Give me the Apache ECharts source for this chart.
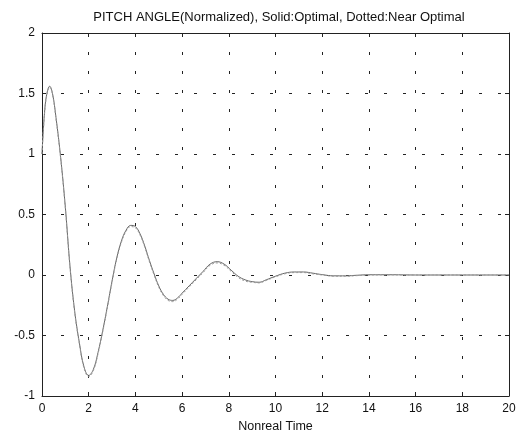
<!DOCTYPE html>
<html>
<head>
<meta charset="utf-8">
<script src="https://cdn.jsdelivr.net/npm/echarts@6/dist/echarts.min.js"></script>
<style>
html,body{margin:0;padding:0;background:#fff;}
#c{width:522px;height:439px;}
</style>
</head>
<body>
<div id="c"></div>
<script>
const titleText = 'PITCH ANGLE(Normalized), Solid:Optimal, Dotted:Near Optimal';
const xName = 'Nonreal Time';
const xTicks = [0, 2, 4, 6, 8, 10, 12, 14, 16, 18, 20];
const yTicks = [-1, -0.5, 0, 0.5, 1, 1.5, 2];

const timeOptimal = [0, 0.1, 0.2, 0.33, 0.45, 0.6, 0.8, 1.0, 1.2, 1.4, 1.6, 1.8, 2.0, 2.2, 2.4, 2.6, 2.8, 3.0, 3.2, 3.4, 3.6, 3.8, 4.0, 4.2, 4.4, 4.6, 4.8, 5.0, 5.2, 5.4, 5.6, 5.8, 6.0, 6.3, 6.6, 6.9, 7.2, 7.5, 7.8, 8.1, 8.4, 8.7, 9.0, 9.3, 9.6, 10.0, 10.4, 10.8, 11.2, 11.6, 12.0, 12.5, 13, 13.5, 14, 15, 16, 17, 18, 19, 20];
const pitchOptimal = [1.0, 1.32, 1.49, 1.56, 1.50, 1.30, 0.97, 0.56, 0.07, -0.30, -0.56, -0.76, -0.83, -0.78, -0.64, -0.46, -0.26, -0.05, 0.14, 0.28, 0.37, 0.41, 0.40, 0.34, 0.24, 0.12, 0.01, -0.09, -0.16, -0.20, -0.21, -0.19, -0.15, -0.09, -0.03, 0.03, 0.09, 0.11, 0.09, 0.04, -0.01, -0.04, -0.055, -0.06, -0.04, -0.01, 0.015, 0.025, 0.025, 0.015, 0.003, -0.007, -0.007, -0.002, 0.002, 0.002, 0, 0, 0, 0, 0];

const timeNear = [0, 0.1, 0.2, 0.33, 0.45, 0.6, 0.8, 1.0, 1.2, 1.4, 1.6, 1.8, 2.0, 2.2, 2.4, 2.6, 2.8, 3.0, 3.2, 3.4, 3.6, 3.8, 4.0, 4.2, 4.4, 4.6, 4.8, 5.0, 5.2, 5.4, 5.6, 5.8, 6.0, 6.3, 6.6, 6.9, 7.2, 7.5, 7.8, 8.1, 8.4, 8.7, 9.0, 9.3, 9.6, 10.0, 10.4, 10.8, 11.2, 11.6, 12.0, 12.5, 13, 13.5, 14, 15, 16, 17, 18, 19, 20];
const pitchNear = [1.0, 1.31, 1.48, 1.55, 1.49, 1.29, 0.96, 0.55, 0.06, -0.31, -0.57, -0.77, -0.84, -0.79, -0.65, -0.47, -0.27, -0.06, 0.13, 0.27, 0.36, 0.40, 0.39, 0.33, 0.23, 0.11, 0.0, -0.10, -0.17, -0.21, -0.22, -0.20, -0.16, -0.10, -0.04, 0.02, 0.08, 0.10, 0.08, 0.03, -0.02, -0.05, -0.06, -0.065, -0.045, -0.015, 0.01, 0.02, 0.02, 0.01, 0.0, -0.01, -0.01, -0.005, 0.0, 0.001, 0, 0, 0, 0, 0];

const toPairs = (xs, ys) => xs.map((x, i) => [x, ys[i]]);
const fmt = v => (Math.round(v * 10) / 10).toString();

const font = 'Liberation Sans, Arial, sans-serif';
const gridLine = { show: true, lineStyle: { color: '#222', type: [3, 16], width: 1 } };

const chart = echarts.init(document.getElementById('c'), null, { renderer: 'canvas' });
chart.setOption({
  animation: false,
  backgroundColor: '#fff',
  title: {
    text: titleText, left: 274, textAlign: 'center', top: 6,
    textStyle: { fontFamily: font, fontSize: 13, fontWeight: 'normal', color: '#111' }
  },
  grid: { left: 42, right: 13, top: 33, bottom: 43 },
  xAxis: [
    {
      type: 'value', min: 0, max: 20, interval: 2,
      name: xName, nameLocation: 'middle', nameGap: 22,
      nameTextStyle: { fontFamily: font, fontSize: 12.5, color: '#111' },
      axisLine: { show: true, onZero: false, lineStyle: { color: '#222' } },
      axisTick: { show: true, inside: true, length: 4, lineStyle: { color: '#222' } },
      axisLabel: { fontFamily: font, fontSize: 12, color: '#111', margin: 7, formatter: v => fmt(v) },
      splitLine: gridLine
    },
    {
      type: 'value', min: 0, max: 20, interval: 2, position: 'top',
      axisLine: { show: true, onZero: false, lineStyle: { color: '#222' } },
      axisTick: { show: true, inside: true, length: 4, lineStyle: { color: '#222' } },
      axisLabel: { show: false }, splitLine: { show: false }
    }
  ],
  yAxis: [
    {
      type: 'value', min: -1, max: 2, interval: 0.5,
      axisLine: { show: true, onZero: false, lineStyle: { color: '#222' } },
      axisTick: { show: true, inside: true, length: 4, lineStyle: { color: '#222' } },
      axisLabel: { fontFamily: font, fontSize: 12, color: '#111', margin: 7, formatter: v => fmt(v) },
      splitLine: gridLine
    },
    {
      type: 'value', min: -1, max: 2, interval: 0.5, position: 'right',
      axisLine: { show: true, onZero: false, lineStyle: { color: '#222' } },
      axisTick: { show: true, inside: true, length: 4, lineStyle: { color: '#222' } },
      axisLabel: { show: false }, splitLine: { show: false }
    }
  ],
  series: [
    {
      name: 'Optimal', type: 'line', smooth: 0.4, showSymbol: false,
      xAxisIndex: 0, yAxisIndex: 0,
      data: toPairs(timeOptimal, pitchOptimal),
      lineStyle: { color: '#666', width: 1 }
    },
    {
      name: 'Near Optimal', type: 'line', smooth: 0.4, showSymbol: false,
      xAxisIndex: 0, yAxisIndex: 0,
      data: toPairs(timeNear, pitchNear),
      lineStyle: { color: '#999', width: 1, type: [2, 2] }
    }
  ]
});
</script>
</body>
</html>
